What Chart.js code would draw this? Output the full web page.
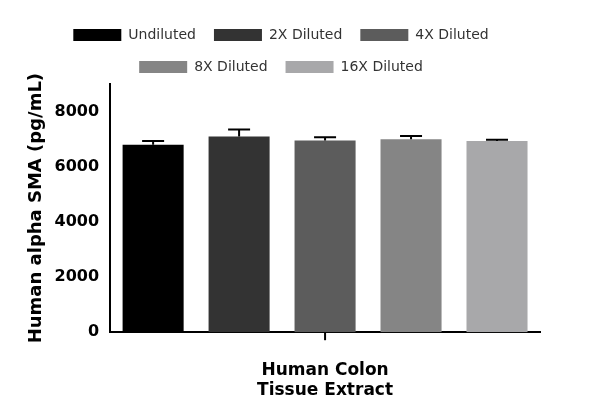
<!DOCTYPE html>
<html>
<head>
<script src="https://cdn.jsdelivr.net/npm/chart.js@4"></script>
<style>
  body { margin: 0; background: #fff; }
  #wrap { width: 600px; height: 417px; }
</style>
</head>
<body>
<div id="wrap"><canvas id="chart"></canvas></div>
<script>
const categories = ['Human Colon Tissue Extract'];
const seriesNames = ['Undiluted', '2X Diluted', '4X Diluted', '8X Diluted', '16X Diluted'];
const seriesValues = [6800, 7100, 6950, 7000, 6930];
const seriesErrors = [130, 250, 120, 110, 50];
const seriesColors = ['#000000', '#333333', '#5c5c5c', '#858585', '#a8a8aa'];
const yTicks = [0, 2000, 4000, 6000, 8000];

// draws the upper error whiskers and the center x tick
const errorBars = {
    id: 'errorBars',
    afterDatasetsDraw(chart) {
        const ctx = chart.ctx;
        const y = chart.scales.y;
        const x = chart.scales.x;
        ctx.save();
        ctx.strokeStyle = '#000';
        ctx.lineWidth = 2;
        chart.data.datasets.forEach((ds, i) => {
            const bar = chart.getDatasetMeta(i).data[0];
            const top = y.getPixelForValue(ds.data[0] + seriesErrors[i]);
            ctx.beginPath();
            ctx.moveTo(bar.x, bar.y);
            ctx.lineTo(bar.x, top);
            ctx.moveTo(bar.x - 11, top);
            ctx.lineTo(bar.x + 11, top);
            ctx.stroke();
        });
        const cx = x.getPixelForValue(0);
        ctx.beginPath();
        ctx.moveTo(cx, x.top);
        ctx.lineTo(cx, x.top + 8);
        ctx.stroke();
        ctx.restore();
    }
};

const datasets = seriesNames.map((name, i) => ({
    label: name,
    data: [seriesValues[i]],
    backgroundColor: seriesColors[i],
    barPercentage: 0.71,
    categoryPercentage: 1
}));

new Chart(document.getElementById('chart'), {
    type: 'bar',
    data: { labels: categories, datasets: datasets },
    plugins: [errorBars],
    options: {
        responsive: true,
        maintainAspectRatio: false,
        animation: false,
        layout: { padding: { left: 22, right: 60, top: 10, bottom: 12 } },
        plugins: {
            tooltip: { enabled: false },
            legend: {
                position: 'top',
                labels: {
                    boxWidth: 48, boxHeight: 12, padding: 18,
                    color: '#333',
                    font: { family: 'DejaVu Sans', size: 14 }
                }
            }
        },
        scales: {
            x: {
                grid: { display: false },
                border: { color: '#000', width: 2 },
                ticks: { display: false },
                title: {
                    display: true,
                    text: ['Human Colon', 'Tissue Extract'],
                    color: '#000',
                    padding: { top: 20 },
                    font: { family: 'DejaVu Sans', size: 17, weight: 'bold' }
                }
            },
            y: {
                min: 0, max: 9000,
                afterBuildTicks: axis => { axis.ticks = yTicks.map(v => ({ value: v })); },
                grid: { display: false, drawTicks: true, tickLength: 8, tickWidth: 2, tickColor: '#000' },
                border: { color: '#000', width: 2 },
                ticks: {
                    color: '#000',
                    callback: v => String(v),
                    font: { family: 'DejaVu Sans', size: 16, weight: 'bold' }
                },
                title: {
                    display: true,
                    text: 'Human alpha SMA (pg/mL)',
                    color: '#000',
                    font: { family: 'DejaVu Sans', size: 18, weight: 'bold' }
                }
            }
        }
    }
});
</script>
</body>
</html>
